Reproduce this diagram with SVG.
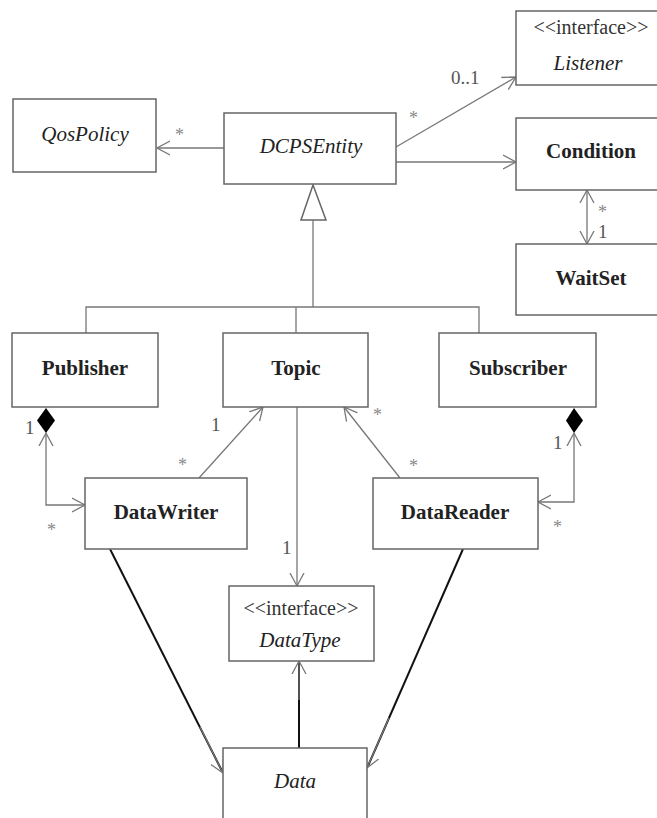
<svg xmlns="http://www.w3.org/2000/svg" width="657" height="818" viewBox="0 0 657 818">
<style>
.box{fill:#fff;stroke:#666;stroke-width:1.5}
.n{font-family:"Liberation Serif","Times New Roman",serif;font-size:21px;fill:#222;text-anchor:middle}
.b{font-weight:bold}
.i{font-style:italic}
.st{font-family:"Liberation Serif","Times New Roman",serif;font-size:20px;fill:#333;text-anchor:middle}
.c{fill:none;stroke:#777;stroke-width:1.3}
.k{fill:none;stroke:#111;stroke-width:2}
.m{font-family:"Liberation Serif","Times New Roman",serif;font-size:19px;fill:#555}
.s{font-family:"Liberation Serif","Times New Roman",serif;font-size:18px;fill:#888}
</style>
<defs>
<marker id="open" markerUnits="userSpaceOnUse" markerWidth="16" markerHeight="16" refX="13" refY="7" orient="auto-start-reverse" viewBox="0 0 16 14">
<path d="M0,0 L13,7 L0,14" fill="none" stroke="#777" stroke-width="1.3"/>
</marker>
</defs>
<rect width="657" height="818" fill="#fff"/>
<g id="connectors">
<line class="c" x1="224" y1="148" x2="157" y2="148" marker-end="url(#open)"/>
<line class="c" x1="396" y1="147" x2="516" y2="77" marker-end="url(#open)"/>
<line class="c" x1="396" y1="162" x2="516" y2="162" marker-end="url(#open)"/>
<line class="c" x1="587" y1="190" x2="587" y2="244" marker-start="url(#open)" marker-end="url(#open)"/>
<polygon points="313,185 326,220 301,220" fill="#fff" stroke="#666" stroke-width="1.5"/>
<path class="c" d="M313,220 V307 M86,333 V307 H479 V333 M296,307 V333"/>
<polygon points="46,408 55,420.5 46,433 37,420.5" fill="#000"/>
<polyline class="c" points="46,433 46,505 85,505" marker-start="url(#open)" marker-end="url(#open)"/>
<polygon points="574,408 583,420.5 574,433 566,420.5" fill="#000"/>
<polyline class="c" points="574,433 574,502 538,502" marker-start="url(#open)" marker-end="url(#open)"/>
<line class="c" x1="199" y1="478" x2="263" y2="407" marker-end="url(#open)"/>
<line class="c" x1="400" y1="478" x2="344" y2="407" marker-end="url(#open)"/>
<line class="c" x1="297" y1="407" x2="297" y2="586" marker-end="url(#open)"/>
<line class="k" x1="299" y1="748" x2="299" y2="662"/>
<line class="k" x1="110" y1="549" x2="222" y2="771"/>
<line class="k" x1="463" y1="549" x2="368" y2="766"/>
<line class="c" x1="299" y1="700" x2="299" y2="661" marker-end="url(#open)"/>
<line class="c" x1="200" y1="727" x2="223" y2="773" marker-end="url(#open)"/>
<line class="c" x1="389" y1="718" x2="367" y2="768" marker-end="url(#open)"/>
</g>
<g id="labels">
<text class="s" x="175" y="141">*</text>
<text class="s" x="409" y="124">*</text>
<text class="m" x="451" y="84">0..1</text>
<text class="s" x="598" y="218">*</text>
<text class="m" x="598" y="238">1</text>
<text class="m" x="25" y="434">1</text>
<text class="s" x="47" y="536">*</text>
<text class="m" x="211" y="431">1</text>
<text class="s" x="178" y="471">*</text>
<text class="s" x="373" y="421">*</text>
<text class="s" x="409" y="472">*</text>
<text class="m" x="553" y="449">1</text>
<text class="s" x="553" y="533">*</text>
<text class="m" x="282" y="554">1</text>
</g>
<g id="QosPolicy"><rect class="box" x="13" y="99" width="143" height="73"/><text class="n i" x="85" y="141">QosPolicy</text></g>
<g id="DCPSEntity"><rect class="box" x="224" y="113" width="172" height="71"/><text class="n i" x="311" y="153">DCPSEntity</text></g>
<g id="Listener"><rect class="box" x="516" y="11" width="151" height="74"/><text class="st" x="591" y="34">&lt;&lt;interface&gt;&gt;</text><text class="n i" x="588" y="70">Listener</text></g>
<g id="Condition"><rect class="box" x="516" y="118" width="151" height="72"/><text class="n b" x="591" y="158">Condition</text></g>
<g id="WaitSet"><rect class="box" x="516" y="244" width="151" height="71"/><text class="n b" x="591" y="285">WaitSet</text></g>
<g id="Publisher"><rect class="box" x="12" y="333" width="146" height="74"/><text class="n b" x="85" y="375">Publisher</text></g>
<g id="Topic"><rect class="box" x="223" y="333" width="145" height="74"/><text class="n b" x="296" y="375">Topic</text></g>
<g id="Subscriber"><rect class="box" x="439" y="333" width="157" height="74"/><text class="n b" x="518" y="375">Subscriber</text></g>
<g id="DataWriter"><rect class="box" x="85" y="478" width="162" height="71"/><text class="n b" x="166" y="519">DataWriter</text></g>
<g id="DataReader"><rect class="box" x="373" y="478" width="165" height="71"/><text class="n b" x="455" y="519">DataReader</text></g>
<g id="DataType"><rect class="box" x="229" y="586" width="145" height="75"/><text class="st" x="301" y="615">&lt;&lt;interface&gt;&gt;</text><text class="n i" x="300" y="647">DataType</text></g>
<g id="Data"><rect class="box" x="223" y="748" width="144" height="80"/><text class="n i" x="295" y="788">Data</text></g>
</svg>
